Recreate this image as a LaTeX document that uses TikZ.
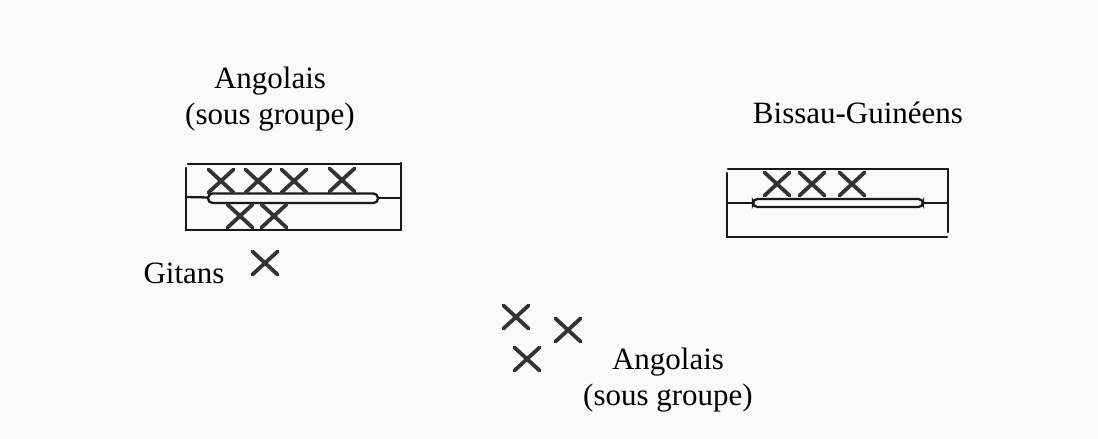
\documentclass[tikz,border=0pt]{standalone}
\usepackage{fontspec}
\setmainfont{Liberation Serif}
\begin{document}
\begin{tikzpicture}[x=1pt,y=-1pt,
  boxline/.style={line width=2.3pt,draw=black!90,line cap=round},
  capsule/.style={line width=2.3pt,draw=black!90,rounded corners=4.5pt},
  crossline/.style={line width=3.8pt,draw=black!80,line cap=round},
  lbl/.style={font=\fontsize{31}{36}\selectfont,inner sep=0pt,align=center,text=black},
  xmark/.pic={\draw[crossline] (-12.5,-11.5)--(12.5,11.5) (-12.5,11.5)--(12.5,-11.5);}]
\useasboundingbox[fill=black!2] (0,0) rectangle (1098,439);

% labels
\node[lbl] (tl) at (270,99) {Angolais\\(sous groupe)};
\node[lbl,anchor=base] (bg) at (858,123) {Bissau-Guinéens};
\node[lbl,anchor=base] (gi) at (184,283) {Gitans};
\node[lbl] (bl) at (668,380) {Angolais\\(sous groupe)};

% left box
\draw[boxline] (188,164) -- (401,164);
\draw[boxline] (186,168) -- (186,230) -- (401,230) -- (401,163);
\draw[boxline] (186,197) -- (208,197.5);
\draw[boxline] (378,198) -- (401,198);
\draw[capsule] (208,193.5) rectangle (378,203);
\pic at (221,181) {xmark};
\pic at (258,181) {xmark};
\pic at (294,181) {xmark};
\pic at (342,180) {xmark};
\pic at (240,216) {xmark};
\pic at (274,216) {xmark};

% right box
\draw[boxline] (728,169) -- (948,169) -- (948,232);
\draw[boxline] (727,173) -- (727,237) -- (947,237);
\draw[boxline] (727,203) -- (753,203);
\draw[boxline] (923,203) -- (948,203);
\draw[capsule] (753,199) rectangle (923,207);
\pic at (777,184) {xmark};
\pic at (812,184) {xmark};
\pic at (852,184) {xmark};

% loose crosses
\pic at (265,263) {xmark};
\pic at (516,317) {xmark};
\pic at (568,330) {xmark};
\pic at (527,359) {xmark};
\end{tikzpicture}
\end{document}
